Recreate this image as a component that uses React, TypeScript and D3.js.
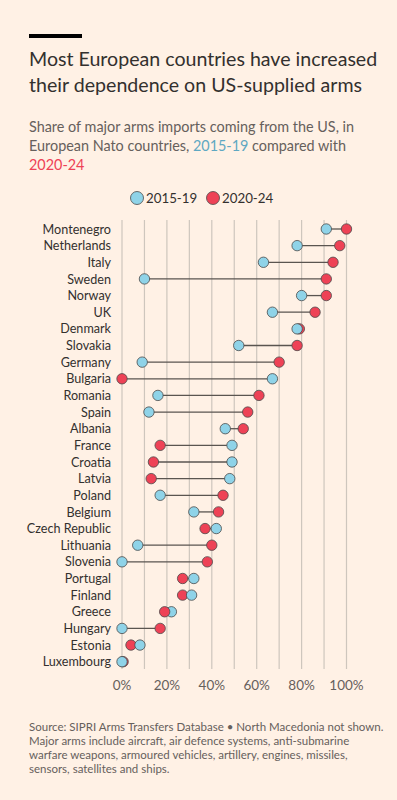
import { useEffect, useRef } from "react";
import * as d3 from "d3";

// Données (part des importations venant des US, %)
const countries = [
  "Montenegro", "Netherlands", "Italy", "Sweden", "Norway", "UK", "Denmark",
  "Slovakia", "Germany", "Bulgaria", "Romania", "Spain", "Albania", "France",
  "Croatia", "Latvia", "Poland", "Belgium", "Czech Republic", "Lithuania",
  "Slovenia", "Portugal", "Finland", "Greece", "Hungary", "Estonia", "Luxembourg",
];
const share2015 = [
  91, 78, 63, 10, 80, 67, 78, 52, 9, 67, 16, 12, 46, 49, 49, 48, 17, 32, 42, 7,
  0, 32, 31, 22, 0, 8, 0,
];
const share2020 = [
  100, 97, 94, 91, 91, 86, 79, 78, 70, 0, 61, 56, 54, 17, 14, 13, 45, 43, 37, 40,
  38, 27, 27, 19, 17, 4, 0.5,
];
const ticks = [0, 20, 40, 60, 80, 100];
const gridTicks = [0, 10, 20, 30, 40, 50, 60, 70, 80, 90, 100];
const seriesNames = ["2015-19", "2020-24"];

const BG = "#FFF1E5";
const INK = "#33302E";
const GREY = "#66605C";
const BLUE = "#8FD3E8";
const RED = "#EE4256";

export default function App() {
  const svgRef = useRef<SVGSVGElement>(null);

  useEffect(() => {
    document.body.style.margin = "0";
    document.body.style.background = BG;
    if (!svgRef.current) return;
    const svg = d3.select(svgRef.current);
    svg.selectAll("*").remove();

    const font = "Lato, sans-serif";

    svg.append("rect").attr("width", 397).attr("height", 800).attr("fill", BG);

    // Barre noire au-dessus du titre
    svg.append("rect").attr("x", 29).attr("y", 34).attr("width", 53).attr("height", 4).attr("fill", "#000");

    // Titre
    const title = svg.append("text").attr("font-family", font).attr("font-size", 19.6).attr("fill", INK);
    ["Most European countries have increased", "their dependence on US-supplied arms"].forEach((l, i) =>
      title.append("tspan").attr("x", 29).attr("y", 66 + i * 26).text(l)
    );

    // Sous-titre
    const sub = svg.append("text").attr("font-family", font).attr("font-size", 14.4).attr("fill", GREY);
    sub.append("tspan").attr("x", 29).attr("y", 132).text("Share of major arms imports coming from the US, in");
    const l2 = sub.append("tspan").attr("x", 29).attr("y", 151);
    l2.append("tspan").text("European Nato countries, ");
    l2.append("tspan").attr("fill", "#5FA8C2").text("2015-19");
    l2.append("tspan").text(" compared with");
    sub.append("tspan").attr("x", 29).attr("y", 170).attr("fill", RED).text("2020-24");

    // Légende
    const legend = svg.append("g").attr("font-family", font).attr("font-size", 13.3).attr("fill", INK);
    [[137, BLUE], [213, RED]].forEach(([x, c], i) => {
      legend.append("circle").attr("cx", x as number).attr("cy", 198).attr("r", 6.5)
        .attr("fill", c as string).attr("stroke", "#4a4a4a").attr("stroke-width", 0.8);
      legend.append("text").attr("x", (x as number) + 9).attr("y", 203).text(seriesNames[i]);
    });

    // Échelles
    const x = d3.scaleLinear().domain([0, 100]).range([122, 346.5]);
    const y = d3.scalePoint<string>().domain(countries).range([229, 661.7]);

    // Grille
    svg.append("g").selectAll("line").data(gridTicks).enter().append("line")
      .attr("x1", (d) => x(d)).attr("x2", (d) => x(d))
      .attr("y1", 220).attr("y2", 669)
      .attr("stroke", "#CEC6BD").attr("stroke-width", 1.2);

    // Étiquettes de l'axe
    svg.append("g").selectAll("text").data(ticks).enter().append("text")
      .attr("x", (d) => x(d)).attr("y", 690)
      .attr("text-anchor", "middle").attr("font-family", font).attr("font-size", 13.5)
      .attr("fill", GREY).text((d) => `${d}%`);

    // Noms des pays
    svg.append("g").selectAll("text").data(countries).enter().append("text")
      .attr("x", 111).attr("y", (d) => y(d)! + 4.6)
      .attr("text-anchor", "end").attr("font-family", font).attr("font-size", 12.6)
      .attr("fill", INK).text((d) => d);

    // Lignes de liaison
    svg.append("g").selectAll("line").data(countries).enter().append("line")
      .attr("x1", (_, i) => x(share2015[i])).attr("x2", (_, i) => x(share2020[i]))
      .attr("y1", (d) => y(d)!).attr("y2", (d) => y(d)!)
      .attr("stroke", "#5a5550").attr("stroke-width", 1.3);

    const dots = svg.append("g");
    const drawDots = (vals: number[], color: string, filter: (i: number) => boolean) => {
      dots.append("g").selectAll("circle").data(countries.filter((_, i) => filter(i))).enter().append("circle")
        .attr("cx", (d) => x(vals[countries.indexOf(d)]))
        .attr("cy", (d) => y(d)!)
        .attr("r", 5.2)
        .attr("fill", color).attr("stroke", "#4a4a4a").attr("stroke-width", 0.8);
    };
    const greece = countries.indexOf("Greece");
    drawDots(share2020, RED, (i) => i !== greece);
    drawDots(share2015, BLUE, () => true);
    drawDots(share2020, RED, (i) => i === greece);

    // Notes de bas de page
    const foot = svg.append("text").attr("font-family", font).attr("font-size", 11.5).attr("fill", GREY);
    [
      "Source: SIPRI Arms Transfers Database \u2022 North Macedonia not shown.",
      "Major arms include aircraft, air defence systems, anti-submarine",
      "warfare weapons, armoured vehicles, artillery, engines, missiles,",
      "sensors, satellites and ships.",
    ].forEach((l, i) => foot.append("tspan").attr("x", 29).attr("y", 731 + i * 14).text(l));
  }, []);

  return <svg ref={svgRef} width={397} height={800} style={{ display: "block" }} />;
}
